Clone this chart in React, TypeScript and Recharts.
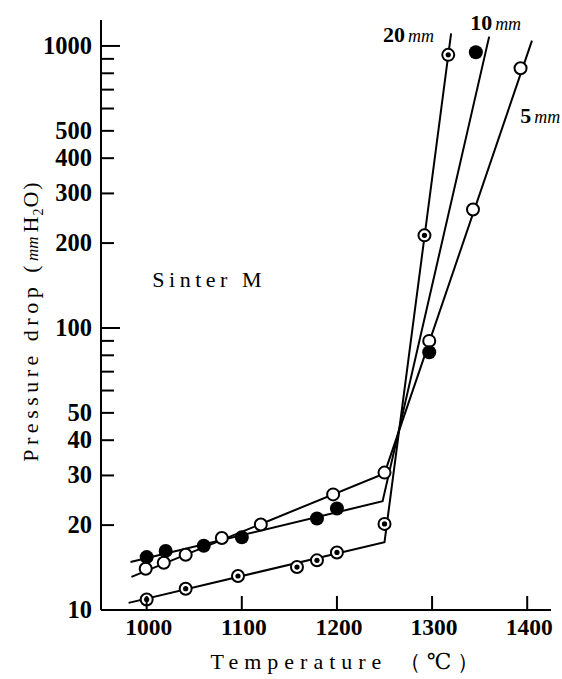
import React from 'react';
import { ComposedChart, Line, Scatter, XAxis, YAxis, ReferenceDot } from 'recharts';

// Axis ticks
const TEMP_TICKS = [1000, 1100, 1200, 1300, 1400];
const DROP_TICKS = [10, 20, 30, 40, 50, 60, 70, 80, 90, 100, 200, 300, 400, 500, 600, 700, 800, 900, 1000];
const DROP_LABELS = [10, 20, 30, 40, 50, 100, 200, 300, 400, 500, 1000];

// Measured points, bed height 20 mm
const temp20 = [1000, 1041, 1096, 1158, 1179, 1200, 1250, 1292, 1317];
const drop20 = [10.9, 11.9, 13.2, 14.2, 15.0, 16.0, 20.2, 213, 930];

// Measured points, bed height 10 mm
const temp10 = [1000, 1020, 1060, 1100, 1179, 1200, 1297, 1346];
const drop10 = [15.4, 16.2, 16.9, 18.1, 21.1, 22.9, 82, 950];

// Measured points, bed height 5 mm
const temp5 = [999, 1018, 1041, 1079, 1120, 1196, 1250, 1297, 1343, 1393];
const drop5 = [14.0, 14.7, 15.7, 18.0, 20.1, 25.7, 30.7, 90, 263, 834];

// Fitted lines (two straight segments each on the log scale)
const fitTemp20 = [981, 1250, 1320];
const fitDrop20 = [10.6, 17.4, 1109];
const fitTemp10 = [983, 1248, 1360];
const fitDrop10 = [14.8, 24.3, 1079];
const fitTemp5 = [984, 1250, 1405];
const fitDrop5 = [13.1, 30.5, 1045];

const zip = (ts: number[], ps: number[]) => ts.map((t, i) => ({ t, p: ps[i] }));

const pts20 = zip(temp20, drop20);
const pts10 = zip(temp10, drop10);
const pts5 = zip(temp5, drop5);
const line20 = zip(fitTemp20, fitDrop20);
const line10 = zip(fitTemp10, fitDrop10);
const line5 = zip(fitTemp5, fitDrop5);

const SERIF = '"Liberation Serif", "DejaVu Serif", serif';
const INK = '#000';

const R = 6;

const OpenDot = (p: any) => (
  <circle cx={p.cx} cy={p.cy} r={R} fill="#fff" stroke={INK} strokeWidth={2} />
);
const FilledDot = (p: any) => (
  <circle cx={p.cx} cy={p.cy} r={R + 1} fill={INK} stroke="none" />
);
const CenteredDot = (p: any) => (
  <g>
    <circle cx={p.cx} cy={p.cy} r={R} fill="#fff" stroke={INK} strokeWidth={2} />
    <circle cx={p.cx} cy={p.cy} r={2.6} fill={INK} />
  </g>
);

const YTick = (props: any) => {
  const { x, y, payload } = props;
  const v = payload.value;
  const long = v === 100 || v === 1000;
  return (
    <g>
      {v !== 10 && (
        <line x1={x} x2={x + (long ? 19 : 13)} y1={y} y2={y} stroke={INK} strokeWidth={2} />
      )}
      {DROP_LABELS.includes(v) && (
        <text
          x={x - 9}
          y={y + 8}
          textAnchor="end"
          fontFamily={SERIF}
          fontWeight="bold"
          fontSize={24.5}
          fill={INK}
        >
          {v}
        </text>
      )}
    </g>
  );
};

const XTick = (props: any) => {
  const { x, y, payload } = props;
  return (
    <g>
      <line x1={x} x2={x} y1={y} y2={y - 14} stroke={INK} strokeWidth={2} />
      <text
        x={x + 2}
        y={y + 25}
        textAnchor="middle"
        fontFamily={SERIF}
        fontWeight="bold"
        fontSize={23.5}
        fill={INK}
      >
        {payload.value}
      </text>
    </g>
  );
};

const XTitle = (props: any) => {
  const vb = props.viewBox;
  return (
    <text
      x={vb.x + vb.width / 2 + 22}
      y={vb.y + 59}
      textAnchor="middle"
      fontFamily={SERIF}
      fontSize={22}
      letterSpacing={6}
      fill={INK}
    >
      Temperature （℃）
    </text>
  );
};

const YTitle = () => {
  const cx = 38;
  const cy = 321;
  return (
    <text
      x={cx}
      y={cy}
      transform={`rotate(-90, ${cx}, ${cy})`}
      textAnchor="middle"
      fontFamily={SERIF}
      fontSize={22}
      letterSpacing={4.5}
      fill={INK}
    >
      Pressure drop (
      <tspan fontStyle="italic" fontSize={17} letterSpacing={0}>mm</tspan>
      <tspan dx={4} letterSpacing={1}>H</tspan>
      <tspan fontSize={14} dy={5} letterSpacing={1}>2</tspan>
      <tspan dy={-5} letterSpacing={2}>O)</tspan>
    </text>
  );
};

const noteText = (main: string, unit: string | null, bold: boolean, spacing = 0) => (p: any) => (
  <text
    x={p.cx}
    y={p.cy}
    fontFamily={SERIF}
    fontSize={22}
    fontWeight={bold ? 'bold' : 'normal'}
    letterSpacing={spacing}
    fill={INK}
  >
    {main}
    {unit && (
      <tspan fontStyle="italic" fontWeight="normal" fontSize={18} dx={3}>
        {unit}
      </tspan>
    )}
  </text>
);

export default function App() {
  return (
    <div style={{ position: 'absolute', left: 0, top: 0, background: '#fff' }}>
      <ComposedChart
        width={562}
        height={679}
        margin={{ top: 20, right: 11, bottom: 0, left: 0 }}
      >
        <XAxis
          dataKey="t"
          type="number"
          domain={[952, 1425]}
          ticks={TEMP_TICKS}
          interval={0}
          allowDataOverflow
          tickLine={false}
          tickSize={0}
          tickMargin={0}
          height={69}
          axisLine={{ stroke: INK, strokeWidth: 2 }}
          tick={XTick}
          label={{ content: XTitle }}
        />
        <YAxis
          dataKey="p"
          type="number"
          scale="log"
          domain={[10, 1236]}
          ticks={DROP_TICKS}
          interval={0}
          allowDataOverflow
          tickLine={false}
          tickSize={0}
          tickMargin={0}
          width={101}
          axisLine={{ stroke: INK, strokeWidth: 2 }}
          tick={YTick}
          label={{ content: YTitle }}
        />

        <Line data={line20} dataKey="p" type="linear" stroke={INK} strokeWidth={2} dot={false} isAnimationActive={false} />
        <Line data={line10} dataKey="p" type="linear" stroke={INK} strokeWidth={2} dot={false} isAnimationActive={false} />
        <Line data={line5} dataKey="p" type="linear" stroke={INK} strokeWidth={2} dot={false} isAnimationActive={false} />

        <Scatter data={pts5} dataKey="p" shape={OpenDot} isAnimationActive={false} />
        <Scatter data={pts10} dataKey="p" shape={FilledDot} isAnimationActive={false} />
        <Scatter data={pts20} dataKey="p" shape={CenteredDot} isAnimationActive={false} />

        <ReferenceDot x={1006} y={139.5} r={0} shape={noteText('Sinter M', null, false, 4.5)} />
        <ReferenceDot x={1248.4} y={1033} r={0} shape={noteText('20', 'mm', true)} />
        <ReferenceDot x={1340} y={1140} r={0} shape={noteText('10', 'mm', true)} />
        <ReferenceDot x={1392.6} y={533} r={0} shape={noteText('5', 'mm', true)} />
      </ComposedChart>
    </div>
  );
}
